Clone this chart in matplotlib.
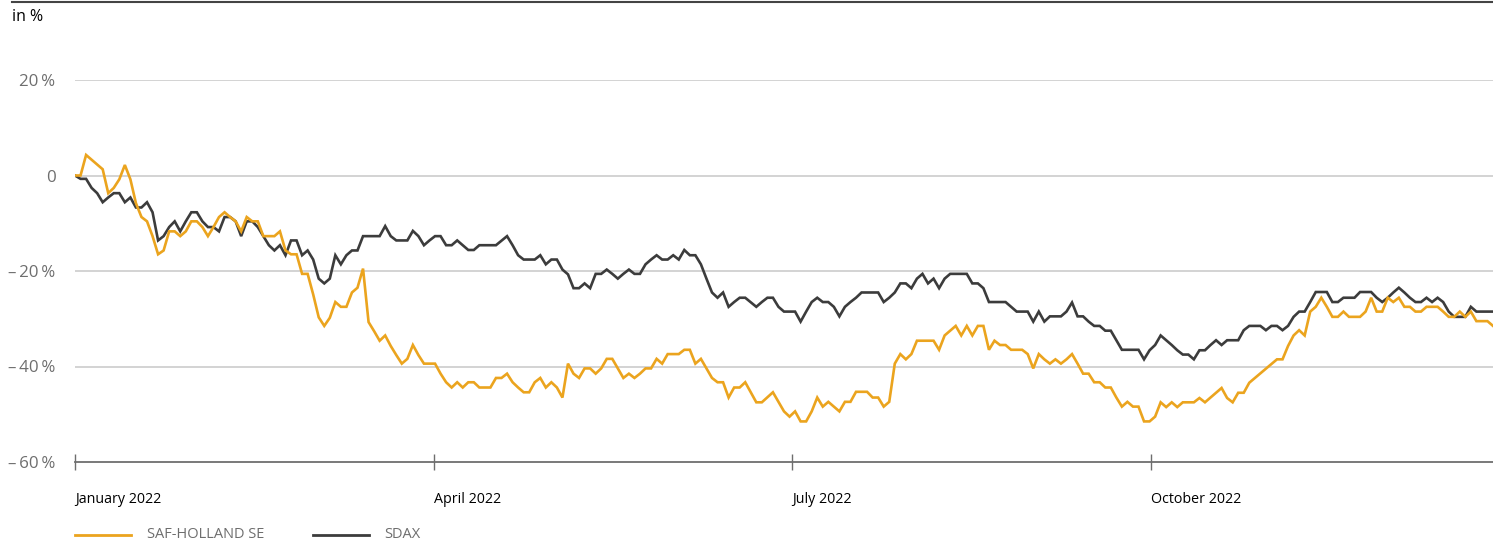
import matplotlib
matplotlib.use("Agg")
import matplotlib.pyplot as plt
from matplotlib.lines import Line2D

plt.rcParams['font.family'] = ['Open Sans', 'DejaVu Sans']

# trading-day index (0 = first trading day of 2022) and performance in %
saf_days = [0, 1, 2, 5, 6, 7, 8, 9, 10, 11, 12, 13, 14, 15, 16, 17, 18, 19, 20, 21,
            22, 23, 24, 25, 26, 27, 28, 29, 30, 31, 32, 33, 34, 36, 37, 38, 39, 40, 41, 42,
            43, 44, 45, 46, 47, 48, 49, 50, 51, 52, 53, 54, 55, 56, 57, 58, 59, 60, 61, 62,
            63, 65, 66, 67, 68, 69, 70, 71, 72, 73, 75, 76, 77, 78, 79, 80, 81, 82, 83, 84,
            85, 86, 87, 88, 89, 90, 91, 92, 93, 94, 95, 96, 97, 98, 99, 100, 101, 102, 103, 104,
            105, 106, 107, 109, 110, 111, 112, 113, 114, 115, 116, 117, 118, 119, 120, 121, 123, 124, 126, 128,
            129, 130, 131, 132, 133, 134, 135, 136, 138, 139, 140, 141, 143, 144, 145, 146, 147, 148, 149, 150,
            151, 152, 155, 156, 157, 159, 160, 161, 162, 163, 164, 165, 166, 167, 168, 169, 171, 172, 173, 174,
            175, 176, 177, 178, 179, 180, 181, 182, 183, 184, 185, 186, 187, 188, 189, 190, 191, 192, 193, 194,
            195, 196, 197, 198, 199, 200, 202, 203, 204, 206, 207, 208, 209, 210, 211, 212, 217, 218, 219, 220,
            221, 222, 223, 224, 225, 226, 227, 228, 229, 230, 232, 233, 234, 235, 236, 237, 238, 239, 240, 241,
            242, 243, 244, 246, 247, 248, 249, 250, 251, 252, 253, 255, 256]
saf_vals = [0, 0, 4.3, 1.3, -3.7, -2.6, -0.8, 2.2, -0.8, -5.8, -8.7, -9.6, -12.7, -16.5, -15.7, -11.7, -11.7, -12.7, -11.7, -9.6,
            -9.6, -10.8, -12.7, -10.8, -8.7, -7.7, -8.7, -9.6, -11.7, -8.7, -9.6, -9.6, -12.7, -12.7, -11.7, -15.7, -16.5, -16.5, -20.6, -20.6,
            -24.9, -29.7, -31.5, -29.8, -26.5, -27.5, -27.5, -24.5, -23.5, -19.5, -30.7, -32.6, -34.6, -33.5, -35.7, -37.6, -39.4, -38.4, -35.5, -37.6,
            -39.4, -39.4, -41.5, -43.3, -44.4, -43.3, -44.4, -43.3, -43.3, -44.4, -44.4, -42.4, -42.4, -41.5, -43.3, -44.4, -45.4, -45.4, -43.3, -42.4,
            -44.4, -43.3, -44.4, -46.5, -39.4, -41.5, -42.4, -40.4, -40.4, -41.5, -40.4, -38.4, -38.4, -40.4, -42.4, -41.5, -42.4, -41.5, -40.4, -40.4,
            -38.4, -39.4, -37.4, -37.4, -36.5, -36.5, -39.4, -38.4, -40.4, -42.4, -43.3, -43.3, -46.5, -44.4, -44.4, -43.3, -47.5, -47.5, -45.4, -49.4,
            -50.5, -49.4, -51.5, -51.5, -49.4, -46.5, -48.4, -47.4, -49.4, -47.4, -47.4, -45.3, -45.3, -46.5, -46.5, -48.4, -47.4, -39.4, -37.4, -38.5,
            -37.4, -34.6, -34.6, -36.5, -33.5, -31.5, -33.5, -31.5, -33.5, -31.5, -31.5, -36.5, -34.6, -35.5, -35.5, -36.5, -36.5, -37.4, -40.4, -37.4,
            -38.5, -39.4, -38.5, -39.4, -38.5, -37.4, -39.4, -41.5, -41.5, -43.3, -43.3, -44.4, -44.4, -46.5, -48.4, -47.4, -48.4, -48.4, -51.5, -51.5,
            -50.5, -47.5, -48.5, -47.5, -48.5, -47.5, -47.5, -46.6, -47.5, -45.5, -44.5, -46.6, -47.5, -45.5, -45.5, -43.4, -38.5, -38.5, -35.7, -33.5,
            -32.4, -33.5, -28.5, -27.5, -25.6, -27.5, -29.6, -29.6, -28.5, -29.6, -29.6, -28.5, -25.6, -28.5, -28.5, -25.6, -26.5, -25.6, -27.5, -27.5,
            -28.5, -28.5, -27.5, -27.5, -28.5, -29.6, -29.6, -28.5, -29.6, -28.5, -30.5, -30.5, -31.5]

sdax_days = [0, 1, 2, 3, 4, 5, 6, 7, 8, 9, 10, 11, 12, 13, 14, 15, 16, 17, 18, 19,
             20, 21, 22, 23, 24, 25, 26, 27, 28, 29, 30, 31, 32, 33, 34, 35, 36, 37, 38, 39,
             40, 41, 42, 43, 44, 45, 46, 47, 48, 49, 50, 51, 52, 55, 56, 57, 58, 60, 61, 62,
             63, 64, 65, 66, 67, 68, 69, 70, 71, 72, 73, 76, 78, 79, 80, 81, 83, 84, 85, 86,
             87, 88, 89, 90, 91, 92, 93, 94, 95, 96, 97, 98, 99, 100, 101, 102, 103, 104, 105, 106,
             107, 108, 109, 110, 111, 112, 113, 114, 115, 116, 117, 118, 119, 120, 121, 123, 124, 125, 126, 127,
             128, 130, 131, 132, 133, 134, 135, 136, 137, 138, 139, 140, 141, 142, 145, 146, 147, 148, 149, 150,
             151, 152, 153, 154, 155, 156, 157, 158, 161, 162, 163, 164, 165, 168, 169, 170, 172, 173, 174, 175,
             176, 178, 179, 180, 181, 182, 183, 184, 185, 186, 187, 188, 189, 192, 193, 194, 195, 196, 197, 198,
             199, 200, 201, 202, 203, 204, 205, 206, 207, 208, 210, 211, 212, 214, 215, 216, 217, 218, 219, 220,
             221, 222, 223, 224, 226, 227, 228, 229, 231, 232, 234, 235, 236, 237, 238, 239, 240, 241, 242, 243,
             244, 245, 246, 247, 248, 249, 250, 251, 252, 253, 256]
sdax_vals = [0, -0.7, -0.7, -2.6, -3.7, -5.6, -4.6, -3.7, -3.7, -5.6, -4.6, -6.7, -6.7, -5.6, -7.7, -13.6, -12.7, -10.8, -9.6, -11.7,
             -9.6, -7.7, -7.7, -9.6, -10.8, -10.8, -11.7, -8.7, -8.7, -9.6, -12.7, -9.6, -9.6, -10.8, -12.7, -14.6, -15.7, -14.6, -16.7, -13.6,
             -13.6, -16.7, -15.7, -17.6, -21.6, -22.6, -21.6, -16.7, -18.6, -16.7, -15.7, -15.7, -12.7, -12.7, -10.6, -12.7, -13.6, -13.6, -11.6, -12.7,
             -14.6, -13.6, -12.7, -12.7, -14.6, -14.6, -13.6, -14.6, -15.6, -15.6, -14.6, -14.6, -12.7, -14.6, -16.7, -17.6, -17.6, -16.7, -18.6, -17.6,
             -17.6, -19.7, -20.7, -23.6, -23.6, -22.6, -23.6, -20.6, -20.6, -19.7, -20.6, -21.6, -20.6, -19.7, -20.6, -20.6, -18.6, -17.6, -16.7, -17.6,
             -17.6, -16.7, -17.6, -15.6, -16.7, -16.7, -18.6, -21.6, -24.5, -25.6, -24.5, -27.5, -26.5, -25.6, -25.6, -27.5, -26.5, -25.6, -25.6, -27.5,
             -28.5, -28.5, -30.6, -28.5, -26.5, -25.6, -26.5, -26.5, -27.5, -29.5, -27.5, -26.5, -25.6, -24.5, -24.5, -26.5, -25.6, -24.5, -22.6, -22.6,
             -23.6, -21.6, -20.6, -22.6, -21.6, -23.6, -21.6, -20.6, -20.6, -22.6, -22.6, -23.6, -26.5, -26.5, -27.5, -28.5, -28.5, -30.6, -28.5, -30.6,
             -29.5, -29.5, -28.5, -26.6, -29.5, -29.5, -30.6, -31.5, -31.5, -32.5, -32.5, -34.5, -36.5, -36.5, -38.5, -36.6, -35.5, -33.5, -34.5, -35.5,
             -36.6, -37.5, -37.5, -38.5, -36.6, -36.6, -35.5, -34.5, -35.5, -34.5, -34.5, -32.4, -31.5, -31.5, -32.4, -31.5, -31.5, -32.4, -31.5, -29.6,
             -28.5, -28.5, -26.5, -24.4, -24.4, -26.5, -26.5, -25.6, -25.6, -24.4, -24.4, -25.6, -26.5, -25.6, -24.5, -23.5, -24.5, -25.6, -26.5, -26.5,
             -25.6, -26.5, -25.6, -26.5, -28.5, -29.6, -29.6, -29.6, -27.5, -28.5, -28.5]

tick_days = [0, 64.8, 129.4, 194.2]
tick_labels = ['January 2022', 'April 2022', 'July 2022', 'October 2022']
y_ticks = [20, 0, -20, -40, -60]
y_labels = ['20\u2009%', '0', '\u2013\u200920\u2009%', '\u2013\u200940\u2009%', '\u2013\u200960\u2009%']

orange = '#eba41e'
dark = '#3c3c3c'
grey_txt = '#6e6e6e'

fig = plt.figure(figsize=(14.93, 5.41), dpi=100)
ax = fig.add_axes([75 / 1493, 1 - 462 / 541, 1 - 75 / 1493, 382 / 541])

for y in [20, 0, -20, -40]:
    ax.axhline(y, color='#c8c8c8', lw=1.1, zorder=1)

ax.plot(saf_days, saf_vals, color=orange, lw=1.9, zorder=3, solid_joinstyle='miter')
ax.plot(sdax_days, sdax_vals, color=dark, lw=1.9, zorder=2, solid_joinstyle='miter')

ax.set_xlim(0, 256)
ax.set_ylim(-60, 20)
for s in ['top', 'right', 'left']:
    ax.spines[s].set_visible(False)
ax.spines['bottom'].set_color('#6e6e6e')
ax.spines['bottom'].set_linewidth(1.3)

ax.set_xticks(tick_days)
ax.set_xticklabels(tick_labels, ha='left', fontsize=10.3, color='black')
ax.tick_params(axis='x', direction='inout', length=11, width=1, color='#6e6e6e', pad=16)
ax.set_yticks(y_ticks)
ax.set_yticklabels(y_labels, fontsize=12.2, color=grey_txt)
ax.tick_params(axis='y', length=0, pad=14)

# header
fig.add_artist(Line2D([12 / 1493, 1], [1 - 2 / 541, 1 - 2 / 541], color='#444444', lw=1.5))
fig.text(12 / 1493, 1 - 17 / 541, 'in %', fontsize=11.5, color='black', va='center', ha='left')

# legend
ly = 1 - 535 / 541
fig.add_artist(Line2D([75 / 1493, 131 / 1493], [ly, ly], color=orange, lw=2))
fig.text(147 / 1493, ly, 'SAF-HOLLAND SE', fontsize=10.5, color=grey_txt, va='center')
fig.add_artist(Line2D([313 / 1493, 369 / 1493], [ly, ly], color=dark, lw=2))
fig.text(384 / 1493, ly, 'SDAX', fontsize=10.5, color=grey_txt, va='center')

fig.savefig('out.png', dpi=100)
